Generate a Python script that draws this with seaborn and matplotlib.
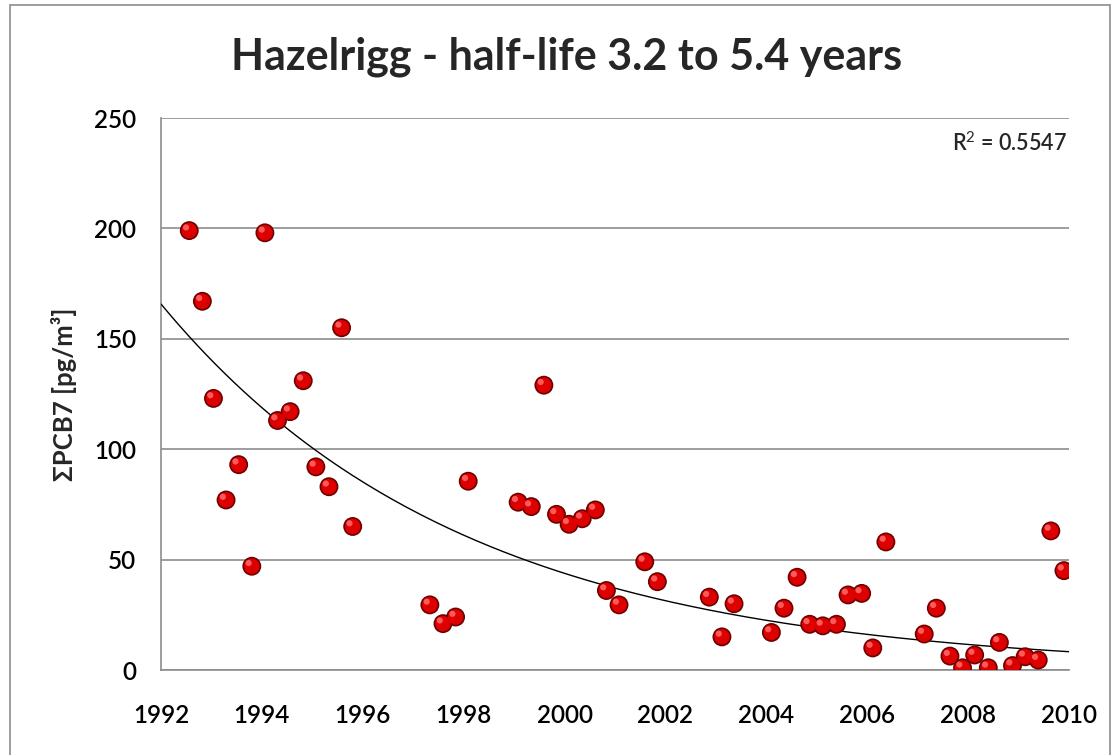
import numpy as np
import pandas as pd
import matplotlib
matplotlib.use("Agg")
import matplotlib.pyplot as plt
import matplotlib.transforms as mtransforms
from matplotlib.patches import Rectangle
import seaborn as sns

# sampling dates (decimal years) and sum of PCB7 concentrations
years = [1992.56, 1992.82, 1993.04, 1993.29, 1993.54, 1993.80, 1994.06, 1994.31,
         1994.56, 1994.82, 1995.07, 1995.33, 1995.58, 1995.80, 1997.33, 1997.59,
         1997.84, 1998.09, 1999.08, 1999.34, 1999.59, 1999.84, 2000.09, 2000.35,
         2000.61, 2000.83, 2001.08, 2001.59, 2001.84, 2002.87, 2003.12, 2003.36,
         2004.10, 2004.35, 2004.61, 2004.86, 2005.12, 2005.39, 2005.62, 2005.89,
         2006.11, 2006.37, 2007.13, 2007.37, 2007.64, 2007.89, 2008.13, 2008.40,
         2008.62, 2008.88, 2009.13, 2009.39, 2009.64, 2009.90]
pcb7 = [199, 167, 123, 77, 93, 47, 198, 113,
        117, 131, 92, 83, 155, 65, 29.5, 21,
        24, 85.5, 76, 74, 129, 70.5, 66, 68.5,
        72.5, 36, 29.5, 49, 40, 33, 15, 30,
        17, 28, 42, 20.7, 20, 20.7, 34, 34.7,
        10, 58, 16.3, 28, 6.3, 1.0, 6.8, 1.0,
        12.5, 2, 6, 4.5, 63, 45]
x_ticks = [1992, 1994, 1996, 1998, 2000, 2002, 2004, 2006, 2008, 2010]
y_ticks = [0, 50, 100, 150, 200, 250]
title = "Hazelrigg - half-life 3.2 to 5.4 years"
r2_text = "R$^2$ = 0.5547"

df = pd.DataFrame({"year": years, "pcb7": pcb7})

sns.set_style("white")
plt.rcParams['font.family'] = ['Lato', 'DejaVu Sans']
plt.rcParams['mathtext.fontset'] = 'custom'
plt.rcParams['mathtext.rm'] = 'Lato'

fig = plt.figure(figsize=(11.2, 7.55), dpi=100)
ax = fig.add_axes([161/1120, 1-670/755, (1069-161)/1120, (670-118)/755])

# exponential trend line (log-linear fit, like Excel)
b, a = np.polyfit(df.year - 1992, np.log(df.pcb7), 1)
tx = np.linspace(1992, 2010, 200)
trend = pd.DataFrame({"year": tx, "fit": np.exp(a + b*(tx - 1992))})
sns.lineplot(data=trend, x="year", y="fit", color="black", linewidth=1, ax=ax, zorder=3)

# spheres: dark rim, red body, small highlight
sns.scatterplot(data=df, x="year", y="pcb7", s=185, color="#6e0000", edgecolor="none", ax=ax, zorder=4)
sns.scatterplot(data=df, x="year", y="pcb7", s=125, color="#dc0000", edgecolor="none", ax=ax, zorder=5)
hl = ax.transData + mtransforms.ScaledTranslation(-2.3/72, 2.3/72, fig.dpi_scale_trans)
ax.scatter(df.year, df.pcb7, s=20, color="#ff5a5a", edgecolor="none", transform=hl, zorder=6)

ax.set_xlim(1992, 2010)
ax.set_ylim(0, 250)
ax.set_xticks(x_ticks)
ax.set_yticks(y_ticks)
ax.yaxis.grid(True, color="#8c8c8c", linewidth=1.2)
ax.xaxis.grid(False)
for s in ["top", "right"]:
    ax.spines[s].set_visible(False)
for s in ["left", "bottom"]:
    ax.spines[s].set_color("#8c8c8c")
    ax.spines[s].set_linewidth(1.2)
ax.tick_params(axis="both", direction="out", width=1.2, color="#8c8c8c",
               labelsize=17.5, labelcolor="black")
ax.tick_params(axis="x", length=6.5, pad=18)
ax.tick_params(axis="y", length=8, pad=10)
for lab in ax.get_xticklabels() + ax.get_yticklabels():
    lab.set_fontweight("semibold")
ax.set_xlabel("")
ax.set_ylabel("ΣPCB7 [pg/m³]", fontsize=18.5, fontweight="bold", labelpad=12)

ax.text(0.9975, 0.955, r2_text, transform=ax.transAxes, ha="right", va="center",
        fontsize=15.5, fontweight="semibold")

fig.text(567/1120, 1-57/755, title, ha="center", va="center", fontsize=31, fontweight="bold")

fig.patches.append(Rectangle((10/1120, -0.05), 1100/1120, 1.05 - 5/755, transform=fig.transFigure,
                             fill=False, edgecolor="#8c8c8c", linewidth=1.2))

fig.savefig("out.png", dpi=100)
